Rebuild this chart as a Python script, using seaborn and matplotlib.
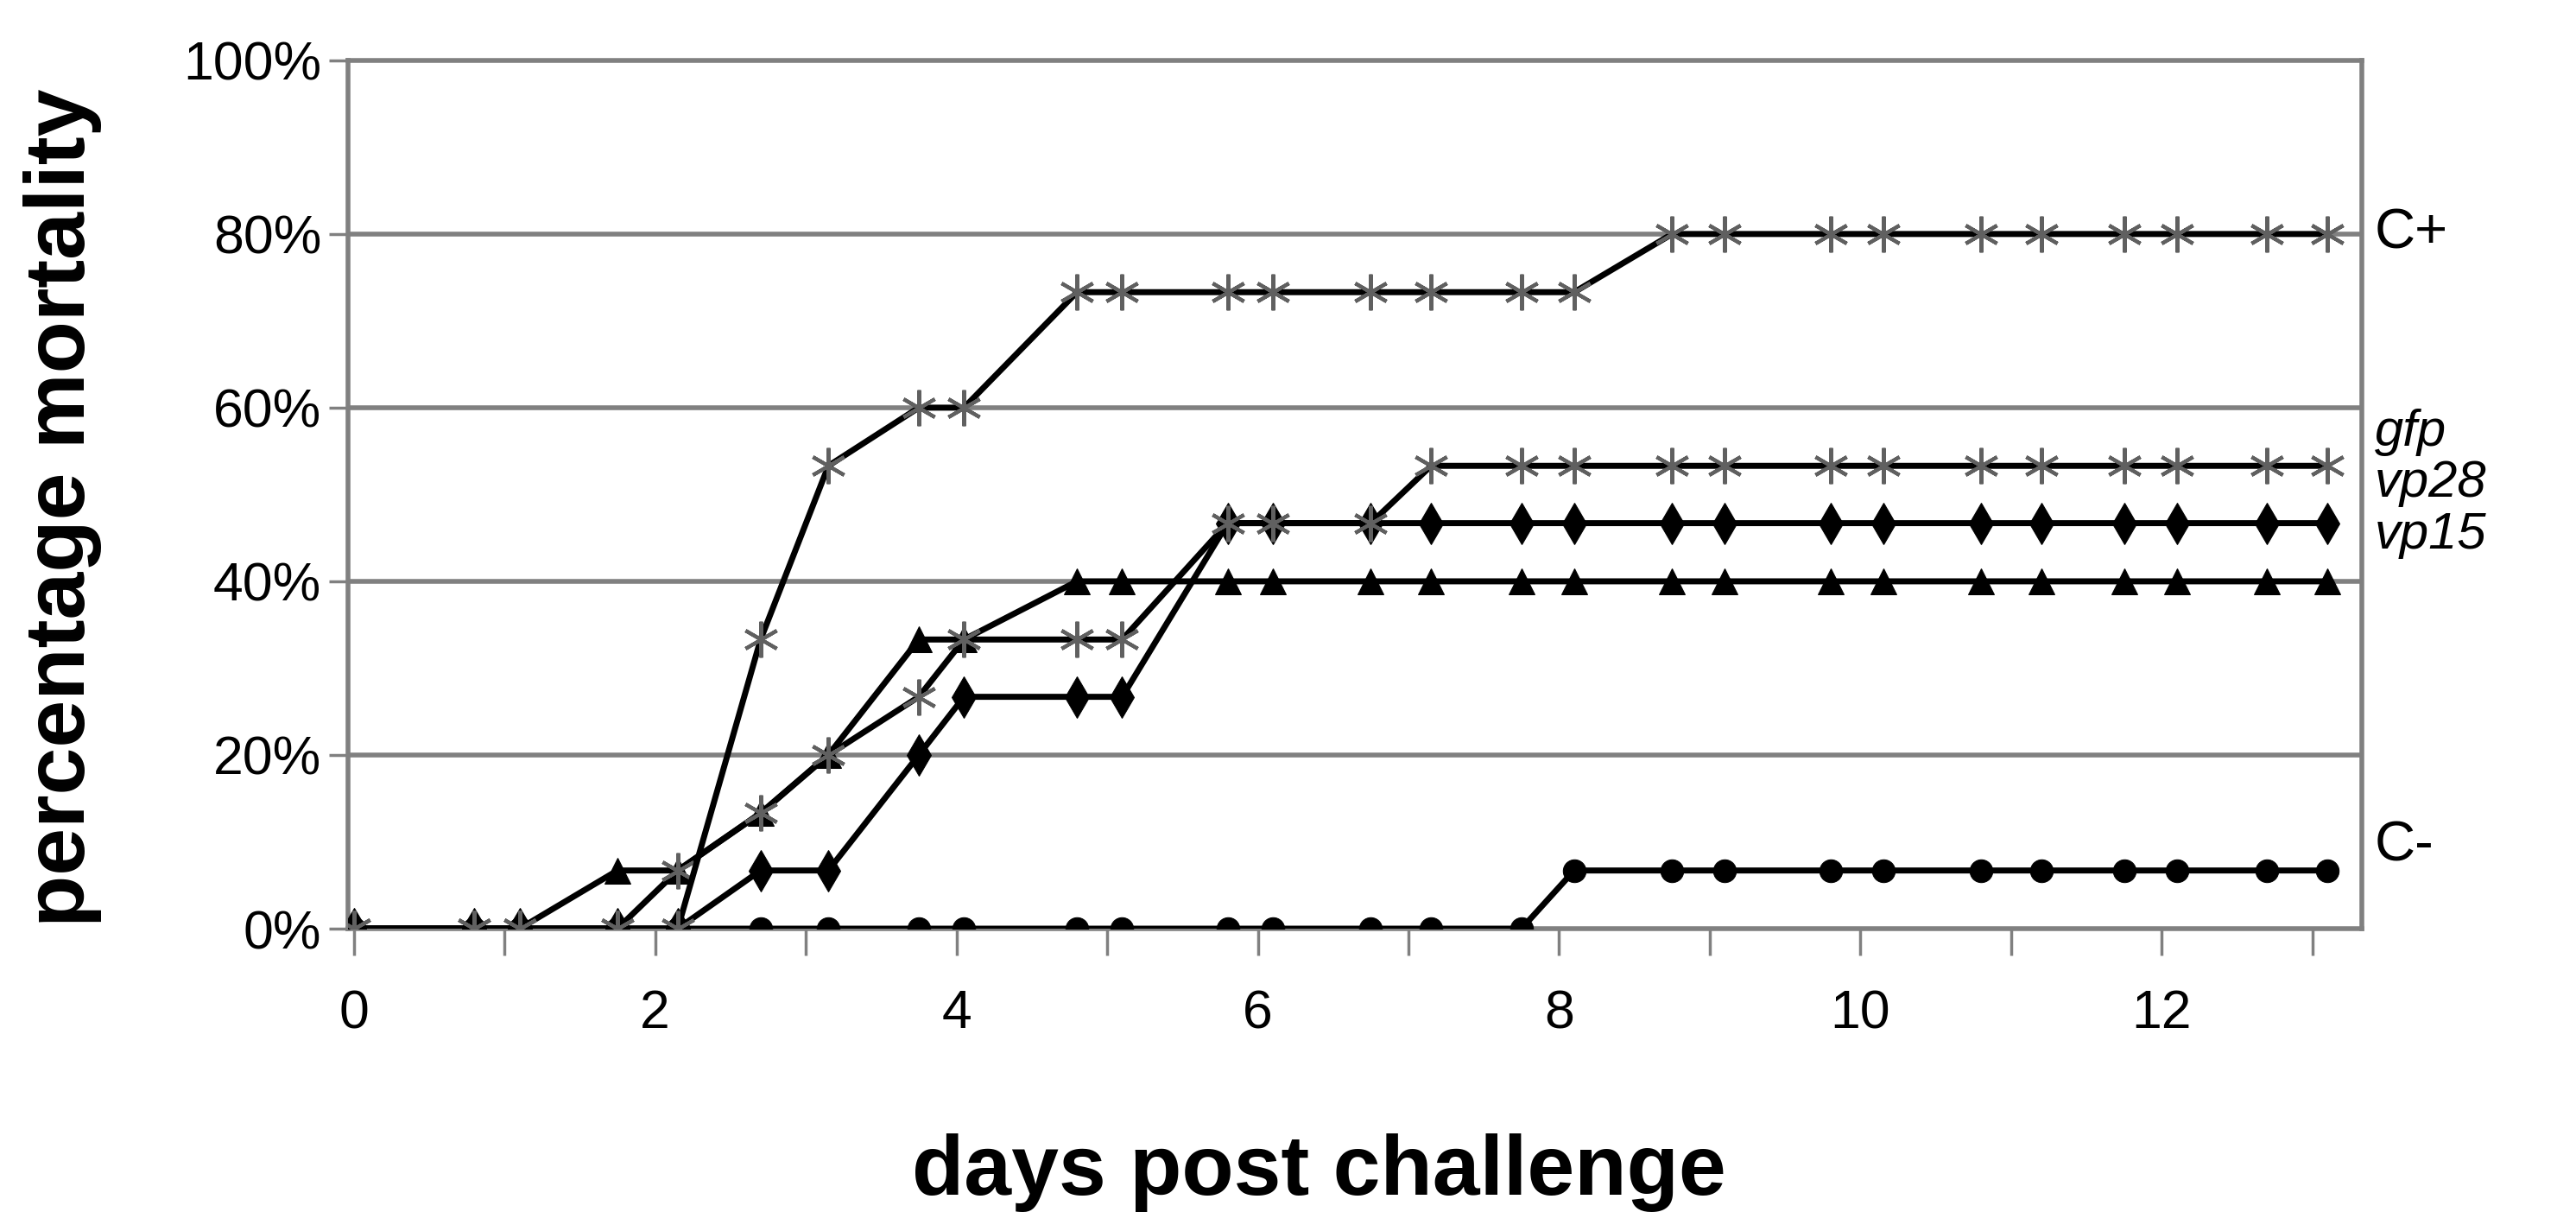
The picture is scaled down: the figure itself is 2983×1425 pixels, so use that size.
import matplotlib
matplotlib.use("Agg")
import matplotlib.pyplot as plt
import matplotlib.transforms as mtransforms
from matplotlib.ticker import PercentFormatter
import pandas as pd
import seaborn as sns

# sampling times (days post challenge), twice a day
days = [0, 0.8, 1.1, 1.75, 2.15, 2.7, 3.15, 3.75, 4.05, 4.8, 5.1, 5.8, 6.1,
        6.75, 7.15, 7.75, 8.1, 8.75, 9.1, 9.8, 10.15, 10.8, 11.2, 11.75,
        12.1, 12.7, 13.1]

# cumulative mortality (%), 15 animals per group
c_pos = [0, 0, 0, 0, 0, 33.3, 53.3, 60, 60, 73.3, 73.3, 73.3, 73.3, 73.3,
         73.3, 73.3, 73.3, 80, 80, 80, 80, 80, 80, 80, 80, 80, 80]
gfp = [0, 0, 0, 0, 6.7, 13.3, 20, 26.7, 33.3, 33.3, 33.3, 46.7, 46.7, 46.7,
       53.3, 53.3, 53.3, 53.3, 53.3, 53.3, 53.3, 53.3, 53.3, 53.3, 53.3,
       53.3, 53.3]
vp28 = [0, 0, 0, 0, 0, 6.7, 6.7, 20, 26.7, 26.7, 26.7, 46.7, 46.7, 46.7,
        46.7, 46.7, 46.7, 46.7, 46.7, 46.7, 46.7, 46.7, 46.7, 46.7, 46.7,
        46.7, 46.7]
vp15 = [0, 0, 0, 6.7, 6.7, 13.3, 20, 33.3, 33.3, 40, 40, 40, 40, 40, 40,
        40, 40, 40, 40, 40, 40, 40, 40, 40, 40, 40, 40]
c_neg = [0, 0, 0, 0, 0, 0, 0, 0, 0, 0, 0, 0, 0, 0, 0, 0, 6.7, 6.7, 6.7, 6.7,
         6.7, 6.7, 6.7, 6.7, 6.7, 6.7, 6.7]

series_names = ["C-", "vp15", "vp28", "gfp", "C+"]
series_values = [c_neg, vp15, vp28, gfp, c_pos]

# end labels: text, y position (%), italic
end_labels = [("C+", 80, False), ("gfp", 57.2, True), ("vp28", 51.3, True),
              ("vp15", 45.3, True), ("C-", 9.5, False)]

sns.set_theme(style="white")
plt.rcParams['font.family'] = ['Liberation Sans', 'DejaVu Sans']
plt.rcParams['text.color'] = 'black'
plt.rcParams['axes.labelcolor'] = 'black'
plt.rcParams['xtick.color'] = 'black'
plt.rcParams['ytick.color'] = 'black'

fig = plt.figure(figsize=(29.83, 14.25), dpi=100)
ax = fig.add_axes([0.135, 0.2456, 0.782, 0.7054])

grid_col = "#808080"
for y in [20, 40, 60, 80]:
    ax.axhline(y, color=grid_col, lw=4, zorder=0)

marker_style = {
    "C-": dict(marker="o", markersize=19, markerfacecolor="black", markeredgecolor="black"),
    "vp15": dict(marker="^", markersize=21, markerfacecolor="black", markeredgecolor="black"),
    "vp28": dict(marker="d", markersize=24, markerfacecolor="black", markeredgecolor="black"),
    "gfp": dict(marker=(6, 2, 0), markersize=30, markeredgecolor="#606060", markeredgewidth=3),
    "C+": dict(marker=(6, 2, 0), markersize=30, markeredgecolor="#606060", markeredgewidth=3),
}

for name, vals in zip(series_names, series_values):
    df = pd.DataFrame({"day": days, "mort": vals})
    sns.lineplot(data=df, x="day", y="mort", ax=ax, color="black", lw=5,
                 zorder=3, **marker_style[name])

ax.set_xlim(-0.04, 13.33)
ax.set_ylim(0, 100)
ax.set_xticks(range(0, 14))
ax.set_xticklabels([str(d) if d % 2 == 0 else "" for d in range(0, 14)])
ax.set_yticks([0, 20, 40, 60, 80, 100])
ax.yaxis.set_major_formatter(PercentFormatter(decimals=0))

for s in ax.spines.values():
    s.set_color(grid_col)
    s.set_linewidth(4)

ax.tick_params(axis="x", direction="out", length=22, width=2.5, color=grid_col,
               labelsize=45, pad=28, bottom=True, labelcolor="black")
ax.tick_params(axis="y", direction="out", length=16, width=2.5, color=grid_col,
               labelsize=45, pad=6, left=True, labelcolor="black")
ax.set_xlabel("days post challenge", fontsize=71, fontweight="bold")
ax.set_ylabel("percentage mortality", fontsize=71, fontweight="bold")
ax.xaxis.set_label_coords(0.482, -0.236)
ax.yaxis.set_label_coords(-0.122, 0.485)

trans = mtransforms.blended_transform_factory(ax.transAxes, ax.transData)
for txt, y, it in end_labels:
    size = 47 if not it else 43
    ax.text(1.006, y, txt, transform=trans, fontsize=size, va="center", ha="left",
            style="italic" if it else "normal", clip_on=False)

fig.savefig("out.png", dpi=100)
